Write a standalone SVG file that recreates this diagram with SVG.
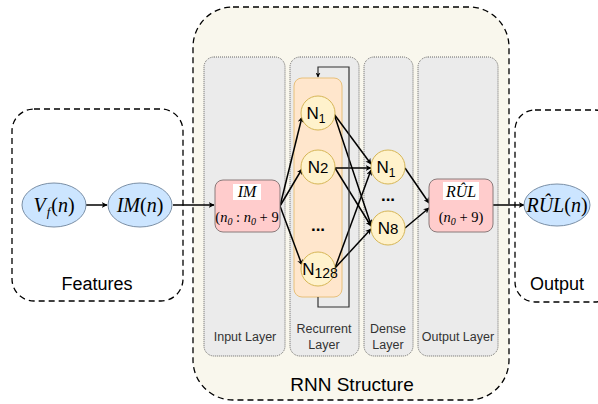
<svg xmlns="http://www.w3.org/2000/svg" width="598" height="404" viewBox="0 0 598 404">
<style>
.dash{fill:none;stroke:#000;stroke-width:1.3;stroke-dasharray:6 4}
.panel{fill:#ebebeb;stroke:#666;stroke-width:1;stroke-dasharray:1 1}
.neu{fill:#fff2cc;stroke:#d6b656;stroke-width:1}
.ell{fill:#cce5ff;stroke:#7a8fa6;stroke-width:1}
.box{fill:#ffcccc;stroke:#8a7a7a;stroke-width:1}
.sans{font-family:"Liberation Sans",Arial,sans-serif;fill:#000}
.lbl{font-family:"Liberation Sans",Arial,sans-serif;font-size:12.5px;fill:#333;text-anchor:middle}
.math{font-family:"Liberation Serif","Times New Roman",serif;font-style:italic;fill:#000;text-anchor:middle}
.edge{fill:none;stroke:#000;stroke-width:1.5}
</style>
<defs>
<marker id="arr" viewBox="0 0 10 10" refX="9" refY="5" markerWidth="6" markerHeight="6" markerUnits="userSpaceOnUse" orient="auto">
<path d="M0,0 L10,5 L0,10 L3,5 Z" fill="#000"/>
</marker>
<marker id="arrs" viewBox="0 0 10 10" refX="9" refY="5" markerWidth="5" markerHeight="5" markerUnits="userSpaceOnUse" orient="auto">
<path d="M0,0 L10,5 L0,10 L3,5 Z" fill="#000"/>
</marker>
</defs>

<g id="rnn-structure">
<rect x="193" y="7" width="316" height="393" rx="40" fill="#f9f7ed" stroke="#000" stroke-width="1.3" stroke-dasharray="6 4"/>
<text class="sans" x="352" y="391" font-size="19" text-anchor="middle">RNN Structure</text>
</g>
<g id="features">
<rect class="dash" x="12" y="109" width="171" height="192" rx="22"/>
<text class="sans" x="97" y="290" font-size="18" text-anchor="middle">Features</text>
</g>
<g id="output">
<rect class="dash" x="515" y="110" width="100" height="192" rx="20"/>
<text class="sans" x="557" y="290" font-size="18" text-anchor="middle">Output</text>
</g>

<g id="input-layer">
<rect class="panel" x="204" y="57" width="81" height="299" rx="10"/>
<text class="lbl" x="245" y="341">Input Layer</text>
</g>
<g id="recurrent-layer">
<rect class="panel" x="290" y="57" width="69" height="299" rx="10"/>
<text class="lbl" x="324" y="333">Recurrent</text>
<text class="lbl" x="324" y="349">Layer</text>
<rect x="294" y="78" width="48" height="219" rx="8" fill="#ffe6cc" stroke="#e8c07a" stroke-width="1"/>
</g>
<g id="dense-layer">
<rect class="panel" x="364" y="57" width="49" height="299" rx="10"/>
<text class="lbl" x="388" y="333">Dense</text>
<text class="lbl" x="388" y="349">Layer</text>
</g>
<g id="output-layer">
<rect class="panel" x="418" y="57" width="80" height="299" rx="10"/>
<text class="lbl" x="458" y="341">Output Layer</text>
</g>

<g id="connectors">
<line class="edge" x1="86" y1="205" x2="107" y2="205" marker-end="url(#arr)"/>
<line class="edge" x1="173" y1="205" x2="214" y2="205" marker-end="url(#arr)"/>
<line class="edge" x1="280" y1="206" x2="302" y2="117" marker-end="url(#arr)"/>
<line class="edge" x1="280" y1="206" x2="302" y2="169" marker-end="url(#arr)"/>
<line class="edge" x1="280" y1="206" x2="302" y2="265" marker-end="url(#arr)"/>
<line class="edge" x1="334" y1="114" x2="371" y2="164" marker-end="url(#arr)"/>
<line class="edge" x1="334" y1="114" x2="371" y2="225" marker-end="url(#arr)"/>
<line class="edge" x1="335" y1="168" x2="371" y2="168" marker-end="url(#arr)"/>
<line class="edge" x1="335" y1="168" x2="371" y2="226" marker-end="url(#arr)"/>
<line class="edge" x1="335" y1="268" x2="371" y2="170" marker-end="url(#arr)"/>
<line class="edge" x1="335" y1="268" x2="371" y2="229" marker-end="url(#arr)"/>
<line class="edge" x1="405" y1="168" x2="429" y2="203" marker-end="url(#arr)"/>
<line class="edge" x1="405" y1="228" x2="429" y2="208" marker-end="url(#arr)"/>
<line class="edge" x1="493" y1="205" x2="524" y2="205" marker-end="url(#arr)"/>
<path d="M318,297 V307 H349 V67 H318 V77" fill="none" stroke="#333" stroke-width="1.2" marker-end="url(#arrs)"/>
</g>

<g id="vf">
<ellipse class="ell" cx="54" cy="205" rx="32" ry="22"/>
<text class="math" x="54" y="212" font-size="20">V<tspan font-size="13" dx="1" dy="4">f</tspan><tspan dx="1" dy="-4" font-style="normal">(</tspan>n<tspan font-style="normal">)</tspan></text>
</g>
<g id="im-n">
<ellipse class="ell" cx="140" cy="205" rx="32" ry="22"/>
<text class="math" x="140" y="212" font-size="20">IM<tspan font-style="normal">(</tspan>n<tspan font-style="normal">)</tspan></text>
</g>
<g id="im-box">
<rect class="box" x="215" y="180" width="65" height="52" rx="8"/>
<rect x="233" y="184" width="28" height="16" fill="#fff"/>
<text class="math" x="247" y="197" font-size="16">IM</text>
<text class="math" x="247" y="222" font-size="14.5"><tspan font-style="normal">(</tspan>n<tspan font-size="10" dy="3">0</tspan><tspan dy="-3" font-style="normal"> : </tspan>n<tspan font-size="10" dy="3">0</tspan><tspan dy="-3" font-style="normal"> + 9</tspan></text>
</g>
<g id="n1">
<circle class="neu" cx="318" cy="113" r="17"/>
<text class="sans" x="316" y="119" font-size="17" text-anchor="middle">N<tspan font-size="12" dy="4">1</tspan></text>
</g>
<g id="n2">
<circle class="neu" cx="318" cy="167" r="17"/>
<text class="sans" x="318" y="173" font-size="17" text-anchor="middle">N<tspan font-size="15">2</tspan></text>
</g>
<text class="sans" x="318" y="231" font-size="17" font-weight="bold" text-anchor="middle">...</text>
<g id="n128">
<circle class="neu" cx="318" cy="269" r="17"/>
<text class="sans" x="320" y="275" font-size="17" text-anchor="middle">N<tspan font-size="14" dy="3">128</tspan></text>
</g>
<g id="d1">
<circle class="neu" cx="388" cy="167" r="17"/>
<text class="sans" x="386" y="173" font-size="17" text-anchor="middle">N<tspan font-size="12" dy="4">1</tspan></text>
</g>
<text class="sans" x="388" y="201" font-size="17" font-weight="bold" text-anchor="middle">...</text>
<g id="d8">
<circle class="neu" cx="388" cy="228" r="17"/>
<text class="sans" x="388" y="234" font-size="17" text-anchor="middle">N<tspan font-size="15">8</tspan></text>
</g>
<g id="rul-box">
<rect class="box" x="429" y="179" width="64" height="53" rx="8"/>
<rect x="443" y="182" width="36" height="18" fill="#fff"/>
<text class="math" x="461" y="197" font-size="16">RÛL</text>
<text class="math" x="461" y="222" font-size="14.5"><tspan font-style="normal">(</tspan>n<tspan font-size="10" dy="3">0</tspan><tspan dy="-3" font-style="normal"> + 9)</tspan></text>
</g>
<g id="rul-n">
<ellipse class="ell" cx="557" cy="205" rx="33" ry="21"/>
<text class="math" x="557" y="212" font-size="20">RÛL<tspan font-style="normal">(</tspan>n<tspan font-style="normal">)</tspan></text>
</g>
</svg>
